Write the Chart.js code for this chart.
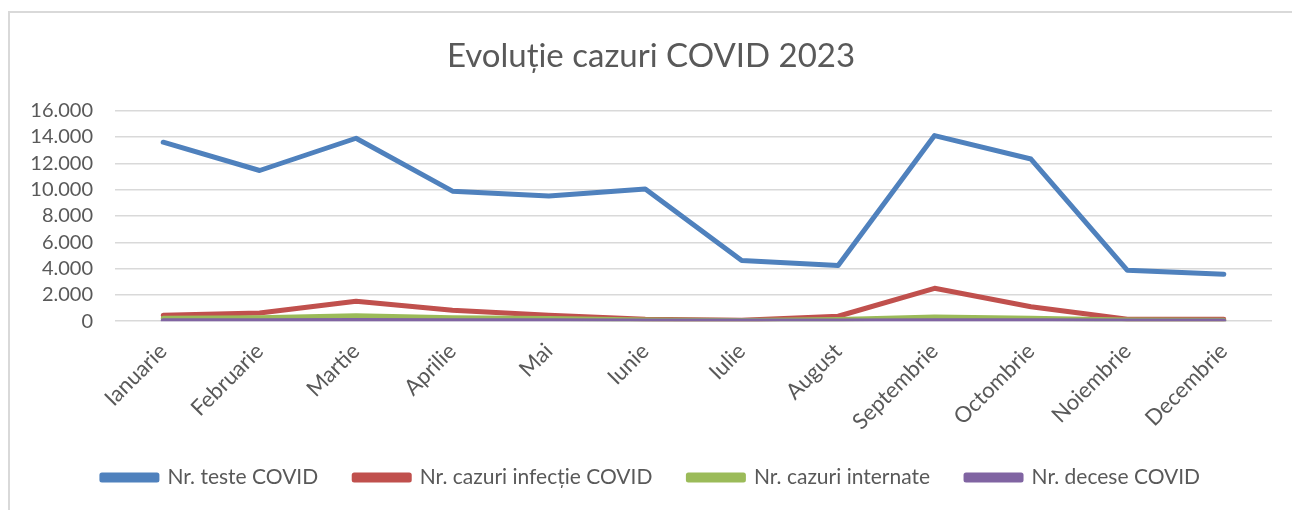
<!DOCTYPE html>
<html>
<head>
<meta charset="utf-8">
<script src="https://cdn.jsdelivr.net/npm/chart.js@4"></script>
<style>
  html, body { margin: 0; padding: 0; background: #fff; }
  #wrap { position: relative; width: 1292px; height: 510px; overflow: hidden; }
  #frame {
    position: absolute; left: 8px; top: 11px; width: 1400px; height: 600px;
    border-left: 2px solid #d9d9d9; border-top: 2px solid #d9d9d9;
    pointer-events: none;
  }
  canvas { position: absolute; left: 0; top: 0; }
</style>
</head>
<body>
<div id="wrap">
  <canvas id="covidChart" width="1292" height="510"></canvas>
  <div id="frame"></div>
</div>
<script>
const months = ['Ianuarie', 'Februarie', 'Martie', 'Aprilie', 'Mai', 'Iunie', 'Iulie', 'August', 'Septembrie', 'Octombrie', 'Noiembrie', 'Decembrie']

const teste = [13600, 11450, 13900, 9880, 9520, 10050, 4620, 4230, 14100, 12320, 3870, 3560]
const infectii = [450, 620, 1520, 830, 450, 160, 80, 380, 2500, 1100, 150, 160]
const internate = [220, 260, 420, 260, 200, 100, 60, 140, 320, 220, 90, 80]
const decese = [30, 35, 50, 40, 30, 15, 10, 20, 45, 35, 15, 15]

const yTicks = [0, 2000, 4000, 6000, 8000, 10000, 12000, 14000, 16000]

const COLORS = {
  blue: '#4f81bd',
  red: '#c0504d',
  green: '#9bbb59',
  purple: '#8064a2',
  text: '#595959',
  grid: '#d9d9d9',
}

const FONT = 'Lato, "Open Sans", sans-serif'

function lineSet(label, data, color, order) {
  return {
    label: label,
    data: data,
    borderColor: color,
    backgroundColor: color,
    borderWidth: 5,
    pointRadius: 0,
    tension: 0,
    borderCapStyle: 'round',
    borderJoinStyle: 'round',
    order: order,
  }
}

function formatTick(v) {
  return String(v).replace(/\B(?=(\d{3})+(?!\d))/g, '.')
}

const ctx = document.getElementById('covidChart').getContext('2d')
new Chart(ctx, {
  type: 'line',
  data: {
    labels: months,
    datasets: [
      lineSet('Nr. teste COVID', teste, COLORS.blue, 3),
      lineSet('Nr. cazuri infecție COVID', infectii, COLORS.red, 2),
      lineSet('Nr. cazuri internate', internate, COLORS.green, 1),
      lineSet('Nr. decese COVID', decese, COLORS.purple, 0),
    ],
  },
  options: {
    responsive: false,
    animation: false,
    layout: {
      padding: { left: 30, right: 20, top: 0, bottom: 12 },
    },
    plugins: {
      title: {
        display: true,
        text: 'Evoluție cazuri COVID 2023',
        color: COLORS.text,
        font: { family: FONT, size: 33, weight: 'normal' },
        padding: { top: 37, bottom: 34 },
      },
      legend: {
        position: 'bottom',
        labels: {
          color: COLORS.text,
          font: { family: FONT, size: 21 },
          boxWidth: 55,
          boxHeight: 5,
          padding: 36,
          sort: (a, b) => a.datasetIndex - b.datasetIndex,
        },
      },
      tooltip: { enabled: false },
    },
    scales: {
      x: {
        offset: true,
        grid: { display: false, drawTicks: false },
        border: { display: false },
        afterFit: (axis) => {
          // rotated labels should not push the plot area inwards
          axis.paddingLeft = 0
          axis.paddingRight = 0
          axis.height -= 21
        },
        ticks: {
          color: COLORS.text,
          font: { family: FONT, size: 22 },
          minRotation: 45,
          maxRotation: 45,
          autoSkipPadding: 0,
          padding: 17,
        },
      },
      y: {
        min: 0,
        max: 16000,
        afterBuildTicks: (axis) => {
          axis.ticks = yTicks.map((v) => ({ value: v }))
        },
        afterFit: (axis) => {
          axis.width = 85
        },
        grid: { color: COLORS.grid, lineWidth: 1.5, drawTicks: false },
        border: { display: false },
        ticks: {
          color: COLORS.text,
          font: { family: FONT, size: 20 },
          padding: 22,
          autoSkip: false,
          callback: (v) => formatTick(v),
        },
      },
    },
  },
})
</script>
</body>
</html>
